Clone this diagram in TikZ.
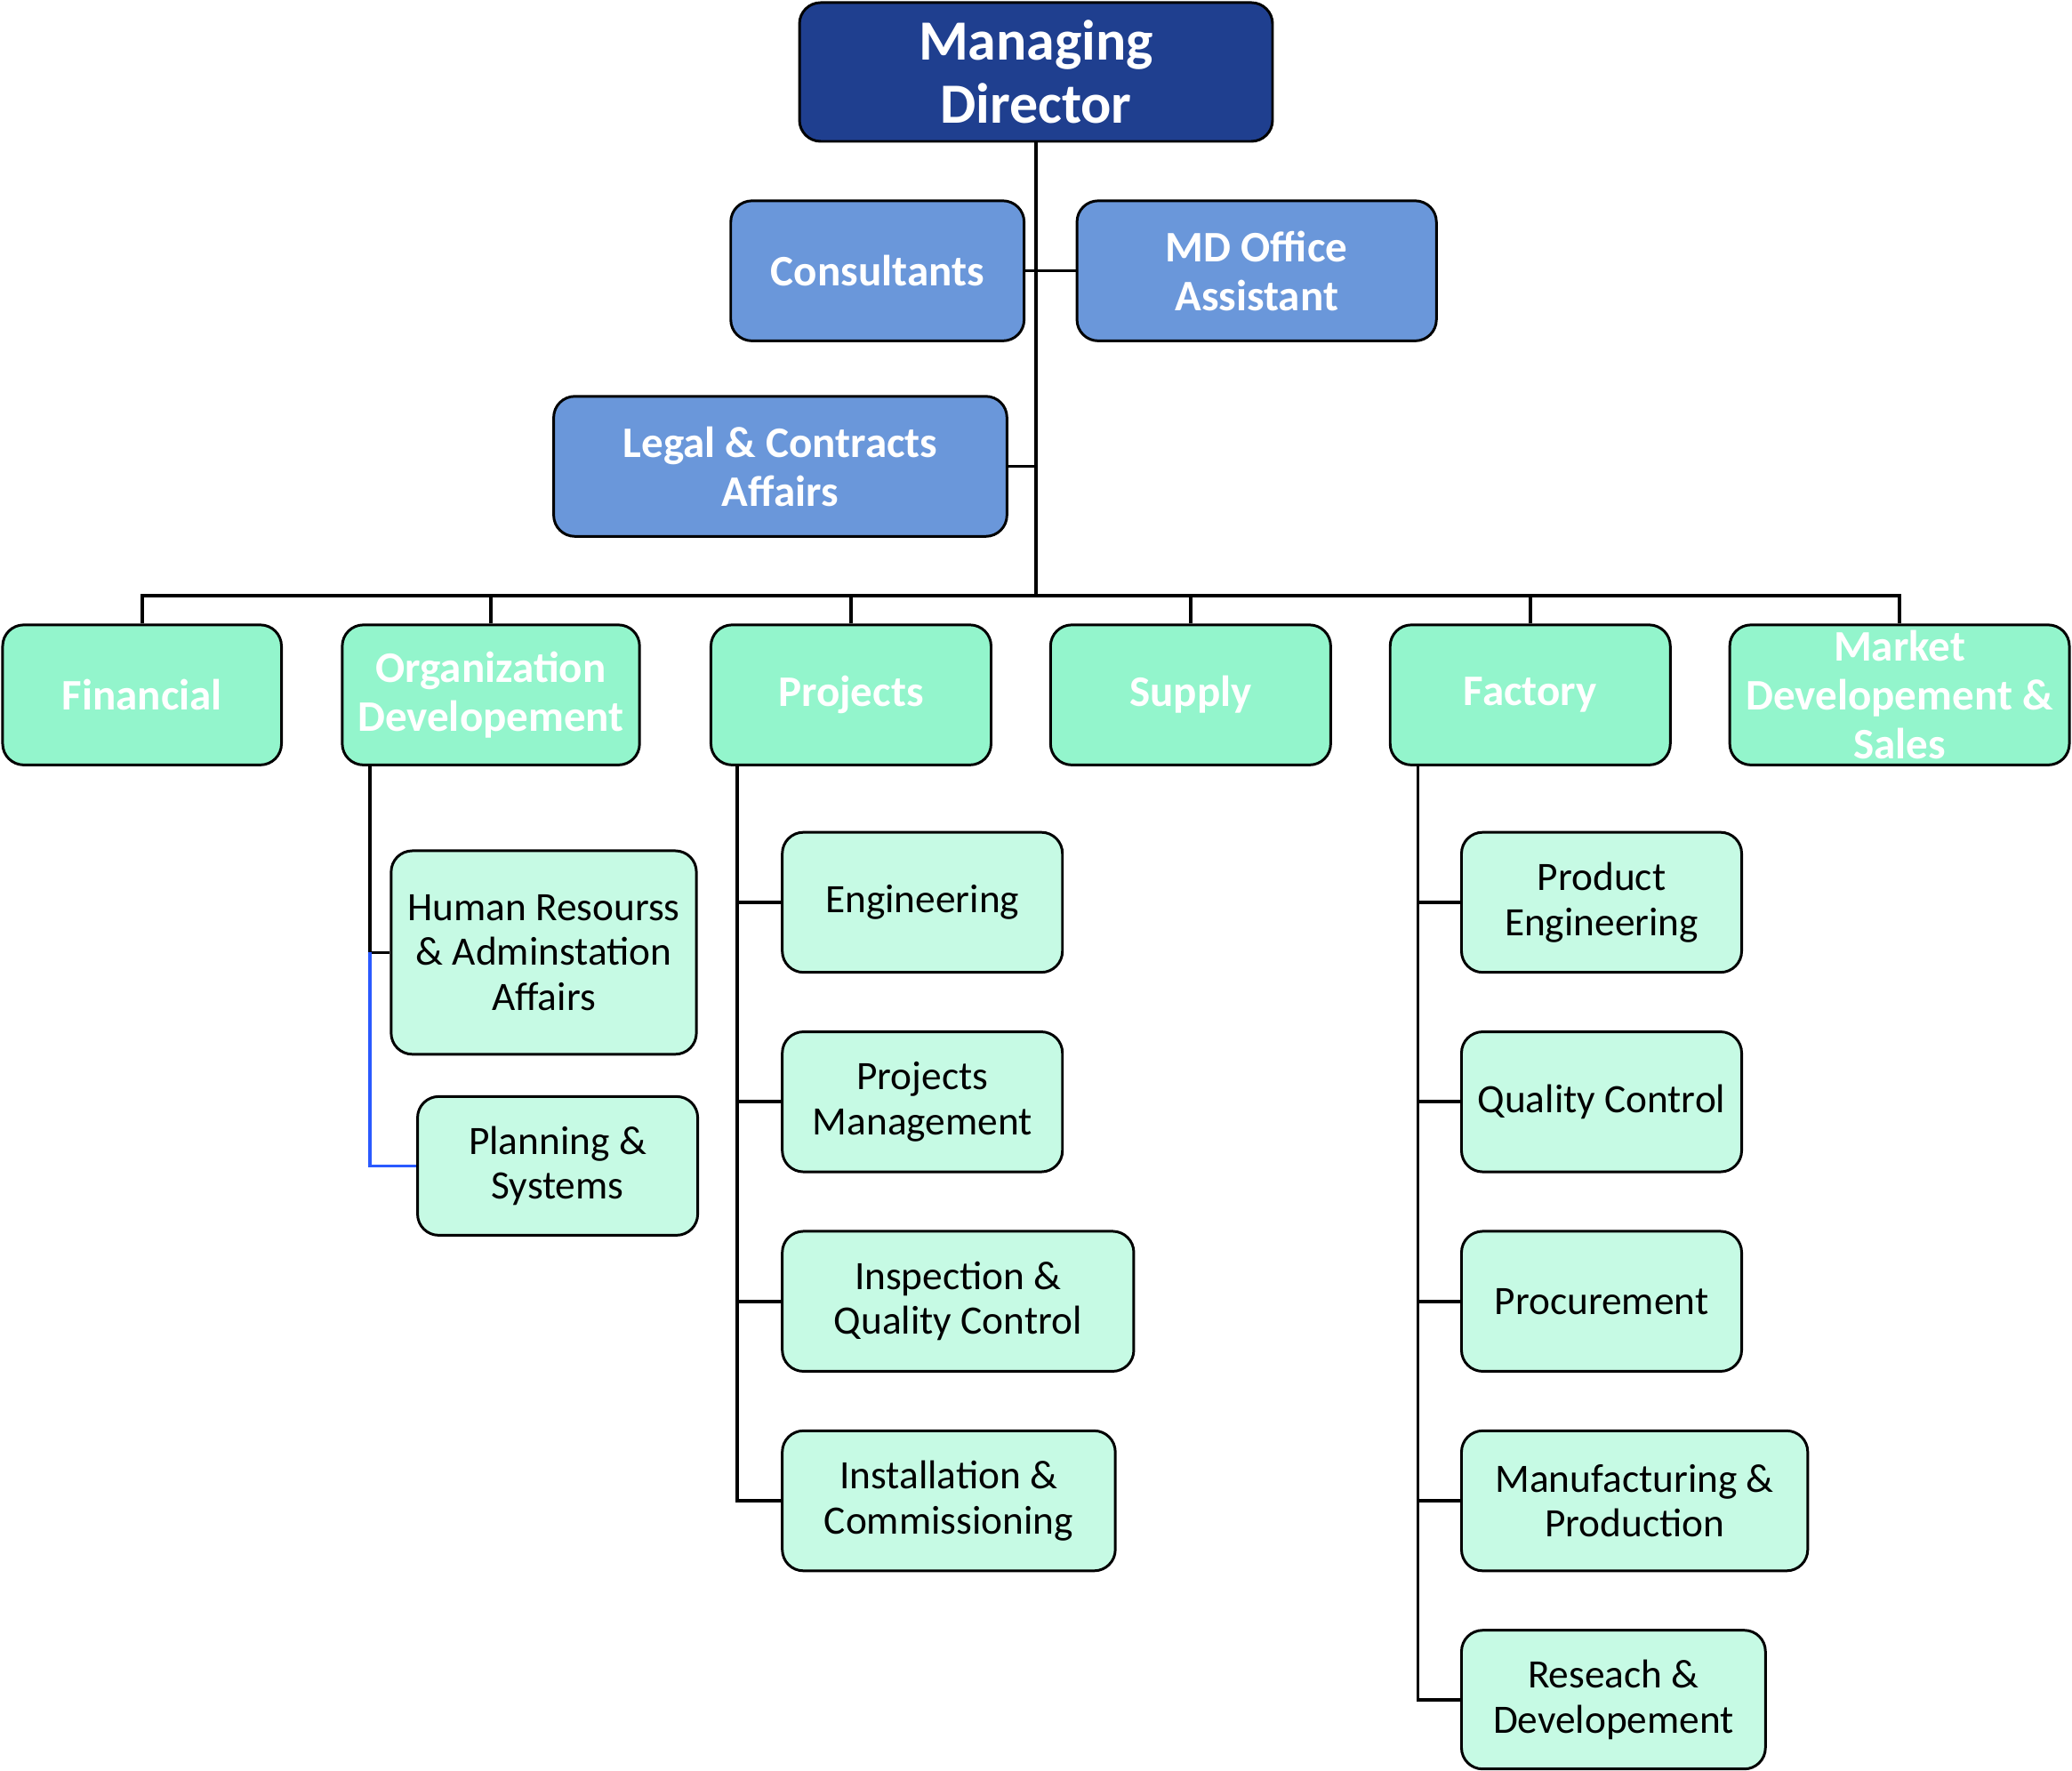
\documentclass[tikz,border=0pt]{standalone}
\usepackage{fontspec}
\setmainfont{Carlito}
\usetikzlibrary{positioning}

\definecolor{mdblue}{HTML}{1F3F8F}
\definecolor{staffblue}{HTML}{6A97DA}
\definecolor{deptgreen}{HTML}{93F5CC}
\definecolor{unitgreen}{HTML}{C6FAE4}
\definecolor{orgline}{HTML}{2A5AFF}

\begin{document}
\begin{tikzpicture}[x=1pt, y=-1pt,
  box/.style={draw, line width=2pt, rounded corners=16pt, align=center,
              inner sep=2pt},
  head/.style={box, fill=mdblue, text=white,
               font=\bfseries\fontsize{43}{48}\selectfont,
               minimum width=358pt, minimum height=105pt},
  staff/.style={box, fill=staffblue, text=white,
                font=\bfseries\fontsize{33}{37}\selectfont, minimum height=106pt},
  dept/.style={box, fill=deptgreen, text=white,
               font=\bfseries\fontsize{33}{37}\selectfont, minimum height=106pt},
  unit/.style={box, fill=unitgreen, font=\fontsize{30.5}{34}\selectfont,
               minimum width=212pt, minimum height=106pt, anchor=north west},
  link/.style={line width=2.5pt}]
\useasboundingbox (0,0) rectangle (1568,1340);

% top
\node[head] (md) at (784,54.5) {Managing\\Director};
\node[staff, minimum width=222pt] (cons) at (664,205) {Consultants};
\node[staff, minimum width=272pt, right=38pt of cons] (mdo) {MD Office\\Assistant};
\node[staff, minimum width=343pt] (legal) at (590.5,353) {Legal \& Contracts\\Affairs};

% departments
\node[dept, minimum width=211pt] (fin) at (107.5,526) {Financial};
\node[dept, minimum width=225pt, right=44pt of fin] (org) {Organization\\Developement};
\node[dept, minimum width=212pt, right=52pt of org] (proj) {Projects};
\node[dept, minimum width=212pt, right=43pt of proj] (sup) {Supply};
\node[dept, minimum width=212pt, right=43pt of sup] (fac) {Factory};
\node[dept, minimum width=257pt, inner ysep=0pt, right=43pt of fac] (mkt) {Market\\Developement \&\\Sales};

% organization units
\node[unit, minimum width=231pt, minimum height=154pt] (hr) at (295,643) {Human Resourss\\\& Adminstation\\Affairs};
\node[unit, minimum height=105pt] (plan) at (315,829) {Planning \&\\Systems};

% project units
\node[unit] (eng) at (591,629) {Engineering};
\node[unit, below=43pt of eng.south west, anchor=north west] (pm) {Projects\\Management};
\node[unit, minimum width=266pt, below=43pt of pm.south west, anchor=north west] (insp) {Inspection \&\\Quality Control};
\node[unit, minimum width=252pt, below=43pt of insp.south west, anchor=north west] (inst) {Installation \&\\Commissioning};

% factory units
\node[unit] (peng) at (1105,629) {Product\\Engineering};
\node[unit, below=43pt of peng.south west, anchor=north west] (qc) {Quality Control};
\node[unit, below=43pt of qc.south west, anchor=north west] (proc) {Procurement};
\node[unit, minimum width=262pt, below=43pt of proc.south west, anchor=north west] (manu) {Manufacturing \&\\Production};
\node[unit, minimum width=230pt, minimum height=105pt, below=43pt of manu.south west, anchor=north west] (rnd) {Reseach \&\\Developement};

% connectors
\coordinate (bus) at (784,451);
\coordinate (orgx) at ([xshift=22pt]org.south west);
\coordinate (projx) at ([xshift=21pt]proj.south west);
\coordinate (facx) at ([xshift=22pt]fac.south west);
\draw[link] (md.south) -- (bus);
\draw[link] (cons.east) -- (mdo.west);
\draw[link] (legal.east) -- (legal.east -| md.south);
\draw[link] (fin.north) -- (bus -| fin.north) -- (bus -| mkt.north) -- (mkt.north);
\foreach \d in {org,proj,sup,fac} \draw[link] (bus -| \d.north) -- (\d.north);
\draw[link] (orgx) |- (hr.west);
\draw[link, draw=orgline] (orgx |- hr.west) |- (plan.west);
\foreach \u in {eng,pm,insp,inst} \draw[link] (projx) |- (\u.west);
\foreach \u in {peng,qc,proc,manu,rnd} \draw[link] (facx) |- (\u.west);
\end{tikzpicture}
\end{document}
